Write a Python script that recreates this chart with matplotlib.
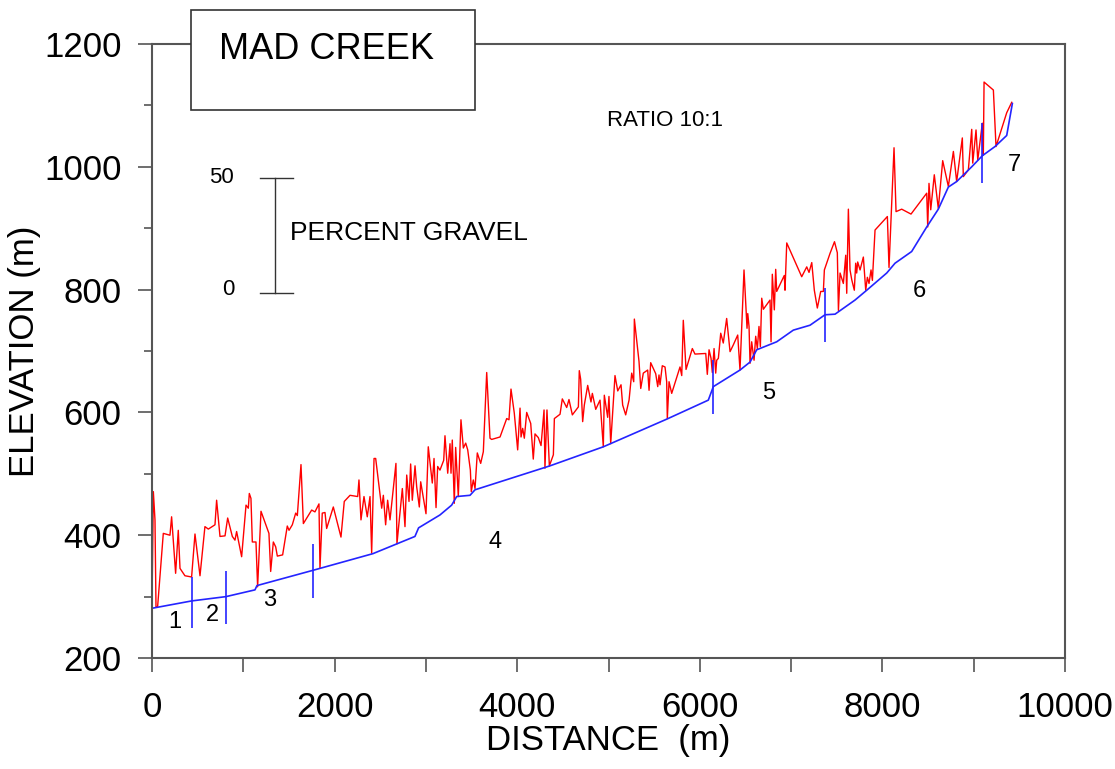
import numpy as np
import matplotlib
matplotlib.use('Agg')
import matplotlib.pyplot as plt
from matplotlib.patches import Rectangle
from matplotlib.ticker import MultipleLocator

plt.rcParams['font.family'] = ['Liberation Sans', 'DejaVu Sans']

# channel bed profile (blue)
bedX = [0, 435, 810, 1128, 1150, 1767, 2420, 2880, 2920, 3154, 3282, 3337, 3483, 3538,
        4359, 4943, 5637, 6093, 6148, 6440, 6550, 6623, 6842, 7024, 7207, 7371, 7481,
        7700, 7828, 8047, 8138, 8320, 8485, 8612, 8722, 8813, 8978, 9094, 9233, 9361, 9423]
bedY = [281, 293, 300, 311, 318, 343, 370, 398, 412, 433, 449, 463, 465, 474,
        513, 544, 589, 620, 642, 669, 682, 702, 715, 734, 742, 759, 760,
        783, 799, 827, 843, 862, 902, 931, 967, 976, 1000, 1018, 1033, 1051, 1103]

# bed elevation plus percent gravel (red)
gravelX = [0, 15, 33, 44, 62, 124, 197, 215, 259, 288, 307, 361, 434, 471, 526, 580, 617, 690, 708, 745,
           800, 829, 880, 909, 927, 982, 1030, 1055, 1066, 1084, 1099, 1139, 1157, 1194, 1281, 1300, 1329,
           1355, 1373, 1431, 1482, 1501, 1537, 1574, 1592, 1632, 1658, 1749, 1785, 1829, 1840, 1865, 1895,
           1913, 1986, 2070, 2106, 2169, 2253, 2267, 2289, 2322, 2358, 2388, 2406, 2432, 2450, 2516, 2534,
           2559, 2581, 2607, 2672, 2683, 2742, 2771, 2790, 2815, 2833, 2851, 2881, 2899, 2928, 2943, 3001,
           3026, 3070, 3089, 3111, 3129, 3154, 3195, 3209, 3239, 3264, 3275, 3289, 3311, 3326, 3355, 3384,
           3410, 3436, 3458, 3487, 3497, 3519, 3538, 3563, 3600, 3629, 3666, 3702, 3720, 3812, 3885, 3910,
           3932, 3968, 4005, 4031, 4042, 4060, 4078, 4104, 4148, 4176, 4195, 4231, 4261, 4294, 4304, 4326,
           4352, 4396, 4407, 4469, 4494, 4542, 4567, 4604, 4670, 4680, 4695, 4717, 4735, 4772, 4808, 4823,
           4860, 4907, 4943, 4954, 4991, 5005, 5024, 5071, 5101, 5137, 5155, 5188, 5225, 5254, 5276, 5283,
           5334, 5353, 5381, 5429, 5444, 5462, 5517, 5539, 5553, 5564, 5589, 5619, 5637, 5644, 5663, 5692,
           5783, 5802, 5819, 5849, 5918, 5947, 6065, 6082, 6101, 6123, 6137, 6156, 6174, 6185, 6203, 6229,
           6257, 6294, 6331, 6367, 6415, 6440, 6484, 6517, 6525, 6539, 6550, 6568, 6594, 6612, 6630, 6648,
           6663, 6678, 6696, 6769, 6780, 6794, 6816, 6831, 6842, 6925, 6933, 6952, 7116, 7171, 7196, 7226,
           7254, 7287, 7324, 7353, 7364, 7426, 7475, 7506, 7518, 7536, 7572, 7598, 7609, 7627, 7645, 7664,
           7692, 7707, 7718, 7729, 7755, 7791, 7817, 7835, 7853, 7875, 7890, 7919, 8054, 8072, 8127, 8149,
           8211, 8313, 8485, 8496, 8510, 8529, 8568, 8612, 8660, 8722, 8777, 8813, 8875, 8886, 8941, 8978,
           8989, 9025, 9044, 9094, 9105, 9113, 9215, 9244, 9361, 9416]
gravelY = [281, 471, 425, 283, 284, 403, 400, 430, 338, 408, 346, 334, 332, 402, 334, 414, 410, 417, 457, 398,
           399, 428, 398, 392, 406, 365, 449, 444, 468, 460, 389, 389, 316, 439, 403, 341, 389,
           381, 366, 368, 415, 408, 417, 436, 432, 515, 419, 441, 438, 451, 346, 436, 437,
           411, 446, 397, 455, 465, 463, 490, 425, 463, 430, 463, 371, 525, 525, 444, 465,
           417, 457, 425, 517, 386, 476, 414, 498, 455, 516, 457, 513, 479, 446, 487, 435,
           544, 485, 525, 445, 512, 506, 522, 562, 501, 549, 501, 555, 452, 543, 463, 588,
           542, 550, 539, 506, 471, 490, 476, 534, 517, 536, 665, 558, 556, 560, 590, 588,
           638, 599, 539, 607, 560, 574, 558, 600, 582, 524, 565, 559, 546, 604, 509, 604,
           513, 531, 590, 597, 622, 608, 621, 596, 609, 668, 654, 585, 612, 644, 617, 631,
           605, 620, 544, 628, 592, 626, 549, 660, 635, 645, 612, 596, 620, 664, 650, 752,
           683, 639, 664, 669, 636, 681, 663, 642, 661, 645, 676, 674, 650, 590, 650, 631,
           674, 660, 750, 670, 704, 695, 696, 662, 702, 688, 665, 704, 664, 685, 688, 729,
           713, 753, 699, 710, 726, 669, 832, 737, 761, 740, 680, 715, 685, 724, 704, 740,
           707, 786, 768, 783, 715, 825, 767, 833, 797, 823, 799, 876, 821, 837, 828, 844,
           799, 770, 797, 797, 832, 859, 878, 860, 766, 827, 810, 856, 794, 931, 832, 816,
           799, 843, 827, 845, 832, 853, 799, 820, 810, 832, 815, 897, 919, 836, 1031, 927,
           931, 923, 957, 902, 973, 930, 987, 932, 1010, 968, 1025, 976, 1047, 984, 995, 1061,
           1006, 1060, 1011, 1071, 1019, 1138, 1125, 1033, 1088, 1105]

# reach boundaries and reach numbers
divX = [438, 810, 1767, 6148, 7371, 9094]
divLo = [249, 255, 298, 598, 715, 974]
divHi = [332, 342, 386, 685, 802, 1071]
reachNames = ['1', '2', '3', '4', '5', '6', '7']
reachX = [252, 657, 1292, 3757, 6758, 8401, 9441]
reachY = [259, 270, 294, 389, 632, 798, 1003]

fig = plt.figure(figsize=(11.15, 7.69), dpi=100)
ax = fig.add_axes([0.1363, 0.1443, 0.8189, 0.7985])

ax.plot(gravelX, gravelY, color='#ff0000', lw=1.0)
ax.plot(bedX, bedY, color='#2424ff', lw=1.2)
ax.vlines(divX, divLo, divHi, color='#2424ff', lw=1.2)

for name, x, y in zip(reachNames, reachX, reachY):
    ax.text(x, y, name, fontsize=17, ha='center', va='center')

# percent gravel scale bar
ax.plot([1347, 1347], [794, 982], color='#333333', lw=1)
ax.plot([1183, 1544], [982, 982], color='#333333', lw=1)
ax.plot([1183, 1544], [794, 794], color='#333333', lw=1)
ax.text(900, 982, '50', fontsize=16, ha='right', va='center')
ax.text(900, 800, '0', fontsize=16, ha='right', va='center')
ax.text(1511, 892, 'PERCENT GRAVEL', fontsize=19, ha='left', va='center')
ax.text(5619, 1076, 'RATIO 10:1', fontsize=16, ha='center', va='center')

ax.set_xlim(0, 10000)
ax.set_ylim(200, 1200)
ax.xaxis.set_major_locator(MultipleLocator(2000))
ax.xaxis.set_minor_locator(MultipleLocator(1000))
ax.yaxis.set_major_locator(MultipleLocator(200))
ax.yaxis.set_minor_locator(MultipleLocator(100))
ax.tick_params(axis='both', which='major', direction='out', length=10, width=1.2,
               color='#555555', labelsize=25)
ax.tick_params(axis='x', which='major', pad=14)
ax.tick_params(axis='y', which='major', pad=12)
ax.tick_params(axis='x', which='minor', direction='out', length=10, width=1.2, color='#555555')
ax.tick_params(axis='y', which='minor', direction='out', length=6, width=1.2, color='#555555')
for s in ax.spines.values():
    s.set_color('#555555')
    s.set_linewidth(1.5)

ax.set_xlabel('DISTANCE  (m)', fontsize=25, labelpad=0)
ax.set_ylabel('ELEVATION (m)', fontsize=25, labelpad=2)

# title box over the top frame line
fig.patches.append(Rectangle((0.1713, 0.857), 0.2547, 0.130, transform=fig.transFigure,
                             facecolor='white', edgecolor='#333333', lw=1.2, zorder=5))
fig.text(0.293, 0.935, 'MAD CREEK', fontsize=26, ha='center', va='center', zorder=6)

plt.savefig('out.png', dpi=100)
